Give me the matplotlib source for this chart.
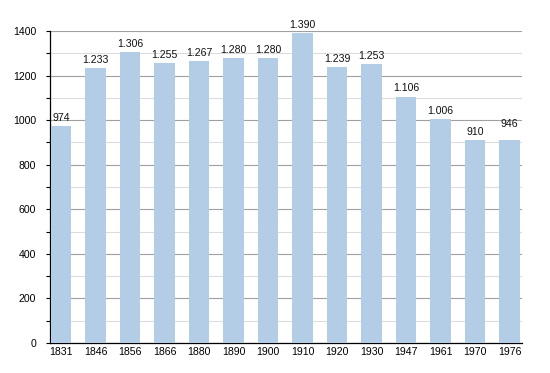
import matplotlib
matplotlib.use('Agg')
import matplotlib.pyplot as plt
import numpy as np

plt.rcParams['font.family'] = ['Liberation Sans', 'DejaVu Sans']

# Population by census year
years = ['1831', '1846', '1856', '1866', '1880', '1890', '1900',
         '1910', '1920', '1930', '1947', '1961', '1970', '1976']
heights = [974, 1233, 1306, 1255, 1267, 1280, 1280,
           1390, 1239, 1253, 1106, 1006, 910, 910]
values = [974, 1233, 1306, 1255, 1267, 1280, 1280,
          1390, 1239, 1253, 1106, 1006, 910, 946]
labels = ['974', '1.233', '1.306', '1.255', '1.267', '1.280', '1.280',
          '1.390', '1.239', '1.253', '1.106', '1.006', '910', '946']

fig = plt.figure(figsize=(5.5, 3.73), dpi=100)
ax = fig.add_axes([50/550, 1 - 343/373, 472/550, 312/373])

x = np.arange(len(years))
ax.bar(x, heights, width=0.6, color='#b3cde6', zorder=3)

for xi, v, lab in zip(x, values, labels):
    ax.text(xi, v + 14, lab, ha='center', va='bottom', fontsize=7.6, color='#111111')

ax.set_xlim(-0.32, len(years) - 1 + 0.36)
ax.set_ylim(0, 1400)
ax.set_xticks(x)
ax.set_xticklabels(years, fontsize=7.6)
ax.set_yticks(np.arange(0, 1401, 200))
ax.set_yticks(np.arange(100, 1400, 200), minor=True)
ax.tick_params(axis='y', labelsize=7.6, length=3, width=0.8, pad=7)
ax.tick_params(axis='y', which='minor', length=3, width=0.8)
ax.tick_params(axis='x', length=0, pad=3)

ax.grid(axis='y', which='major', color='#a0a0a0', linewidth=0.8, zorder=0)
ax.grid(axis='y', which='minor', color='#dcdcdc', linewidth=0.8, zorder=0)
ax.set_axisbelow(True)

for s in ['top', 'right']:
    ax.spines[s].set_visible(False)
ax.spines['left'].set_linewidth(0.9)
ax.spines['bottom'].set_linewidth(0.9)

fig.savefig('out.png', dpi=100)
